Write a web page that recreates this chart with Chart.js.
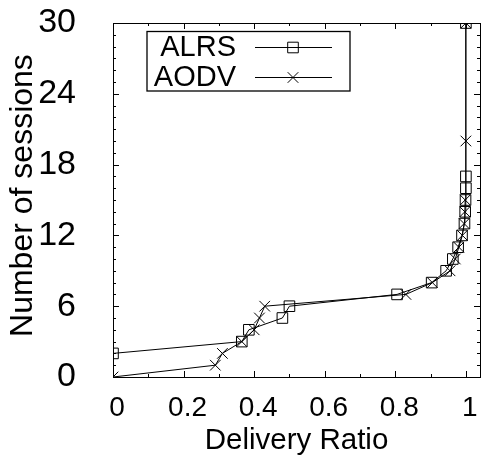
<!DOCTYPE html>
<html>
<head>
<meta charset="utf-8">
<script src="https://cdn.jsdelivr.net/npm/chart.js@4/dist/chart.umd.min.js"></script>
<style>
  html, body { margin: 0; padding: 0; background: #fff; }
  #wrap { width: 484px; height: 461px; }
</style>
</head>
<body>
<div id="wrap"><canvas id="c" width="484" height="461"></canvas></div>
<script>
/* ===== Delivery ratio CDF: ALRS vs AODV (gnuplot look) ===== */
const seriesNames = ["ALRS", "AODV"];
const alrsRatio    = [0, 0.365, 0.385, 0.48, 0.50, 0.805, 0.903, 0.944, 0.963, 0.978, 0.989, 0.996, 0.998, 0.999, 1, 1, 1];
const alrsSessions = [2, 3, 4, 5, 6, 7, 8, 9, 10, 11, 12, 13, 14, 15, 16, 17, 30];
const aodvRatio    = [0, 0.29, 0.31, 0.365, 0.40, 0.415, 0.43, 0.83, 0.905, 0.955, 0.97, 0.98, 0.99, 0.995, 0.997, 0.998, 1, 1];
const aodvSessions = [0, 1, 2, 3, 4, 5, 6, 7, 8, 9, 10, 11, 12, 13, 14, 15, 20, 30];
const xTicks = [0, 0.2, 0.4, 0.6, 0.8, 1];
const yTicks = [0, 6, 12, 18, 24, 30];

const FONT = "'Liberation Sans', Arial, Helvetica, sans-serif";
const pts = (xs, ys) => xs.map((x, i) => ({ x, y: ys[i] }));
const noPad = () => ({ left: 0, top: 0, right: 0, bottom: 0 });

const mkSet = (label, data, style) => ({
  label, data, pointStyle: style,
  borderColor: "#000", borderWidth: 1, backgroundColor: "transparent",
  pointRadius: 7.5, pointHoverRadius: 7.5, pointBorderWidth: 1,
  pointBorderColor: "#000", pointBackgroundColor: "transparent", tension: 0,
});

// frame + inward ticks on all four sides, gnuplot style
const framePlugin = {
  id: "frame",
  afterDraw(chart) {
    const { ctx, chartArea: a, scales: { x, y } } = chart;
    ctx.save();
    ctx.strokeStyle = "#000"; ctx.lineWidth = 1;
    ctx.strokeRect(Math.round(a.left) + 0.5, Math.round(a.top) + 0.5, Math.round(a.right - a.left), Math.round(a.bottom - a.top));
    ctx.beginPath();
    for (let i = 0; i <= 10; i++) {
      const px = Math.round(x.getPixelForValue(i / 10)) + 0.5, len = i % 2 ? 3 : 6;
      ctx.moveTo(px, a.bottom); ctx.lineTo(px, a.bottom - len);
      ctx.moveTo(px, a.top); ctx.lineTo(px, a.top + len);
    }
    for (let j = 0; j <= 30; j++) {
      const py = Math.round(y.getPixelForValue(j)) + 0.5, len = j % 6 ? 3 : 6;
      ctx.moveTo(a.left, py); ctx.lineTo(a.left + len, py);
      ctx.moveTo(a.right, py); ctx.lineTo(a.right - len, py);
    }
    ctx.stroke();
    ctx.restore();
  },
};

// boxed key with right-aligned labels
const keyPlugin = {
  id: "key",
  afterDraw(chart) {
    const { ctx } = chart;
    ctx.save();
    ctx.fillStyle = "#fff";
    ctx.fillRect(147, 31.5, 203, 59.5);
    ctx.strokeStyle = "#000"; ctx.lineWidth = 1.3;
    ctx.strokeRect(147, 31.5, 203, 59.5);
    ctx.font = "29px " + FONT;
    ctx.textAlign = "right"; ctx.textBaseline = "middle";
    chart.data.datasets.forEach((ds, i) => {
      const yy = 47 + i * 30;
      ctx.fillStyle = "#000";
      ctx.fillText(ds.label, 236, yy + 1);
      ctx.lineWidth = 1;
      ctx.beginPath(); ctx.moveTo(255, yy + 0.5); ctx.lineTo(332, yy + 0.5); ctx.stroke();
      ctx.fillStyle = "rgba(0,0,0,0)";
      Chart.helpers.drawPoint(ctx, { pointStyle: ds.pointStyle, radius: 7.5, borderWidth: 1 }, 293, yy + 0.5);
    });
    ctx.restore();
  },
};

new Chart(document.getElementById("c"), {
  type: "line",
  data: { datasets: [
    mkSet(seriesNames[0], pts(alrsRatio, alrsSessions), "rect"),
    mkSet(seriesNames[1], pts(aodvRatio, aodvSessions), "crossRot"),
  ] },
  options: {
    responsive: false, animation: false, events: [],
    // autoPadding off: point radius would otherwise eat into the right margin
    layout: { autoPadding: false, padding: { top: 23, right: 4, left: 0, bottom: 0 } },
    plugins: { legend: { display: false }, tooltip: { enabled: false } },
    scales: {
      x: {
        type: "linear", min: 0, max: 1.04,
        afterBuildTicks: (s) => { s.ticks = xTicks.map((v) => ({ value: v })); },
        afterFit: (s) => { s.height = 84; s.paddingLeft = 0; s.paddingRight = 0; s.getPadding = noPad; },
        ticks: { font: { family: FONT, size: 28 }, color: "#000", padding: 14, maxRotation: 0, labelOffset: 4,
          callback: (v) => String(v) },
        grid: { display: false, drawTicks: false }, border: { display: false },
        title: { display: true, text: "Delivery Ratio", color: "#000", font: { family: FONT, size: 29.5 }, padding: { top: 0, bottom: 2 } },
      },
      y: {
        type: "linear", min: 0, max: 30,
        afterBuildTicks: (s) => { s.ticks = yTicks.map((v) => ({ value: v })); },
        afterFit: (s) => { s.width = 113; s.paddingTop = 0; s.paddingBottom = 0; s.getPadding = noPad; },
        ticks: { font: { family: FONT, size: 34 }, color: "#000", padding: 37,
          callback: (v) => String(v) },
        grid: { display: false, drawTicks: false }, border: { display: false },
        title: { display: true, text: " Number of sessions", color: "#000", font: { family: FONT, size: 32 }, padding: { top: 4, bottom: 0 } },
      },
    },
  },
  plugins: [framePlugin, keyPlugin],
});
</script>
</body>
</html>
